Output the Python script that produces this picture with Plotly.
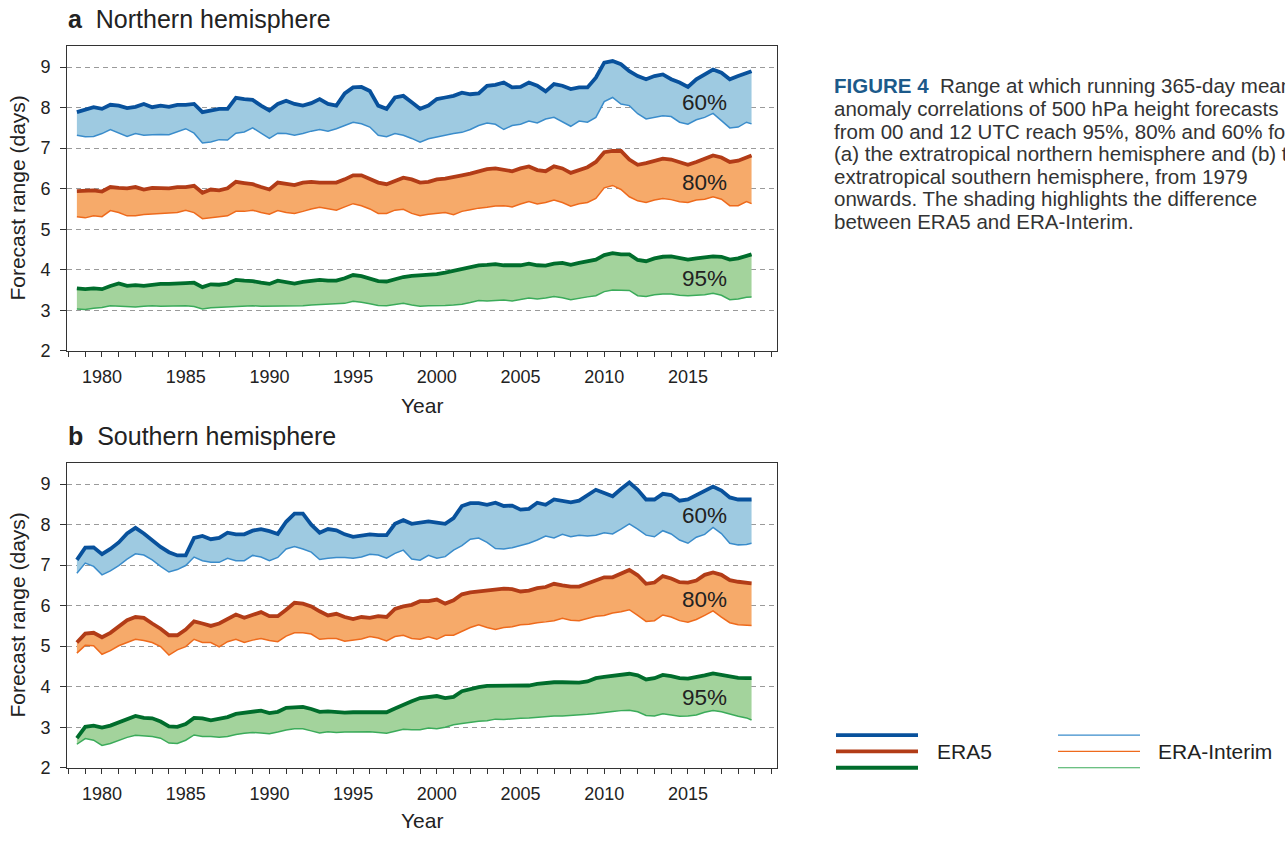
import plotly.graph_objects as go

# ---------------- data ----------------
YEARS = [1978.5 + 0.5 * i for i in range(81)] + [2018.8]

NH_ERA5_60 = [7.89, 7.94, 8.01, 7.97, 8.07, 8.05, 7.99, 8.02, 8.09, 8.01, 8.05, 8.02, 8.07, 8.07, 8.09, 7.89, 7.94, 7.97, 7.97, 8.24, 8.21,
              8.19, 8.05, 7.93, 8.09, 8.17, 8.09, 8.05, 8.11, 8.21, 8.09, 8.05, 8.35, 8.50, 8.51, 8.41, 8.05, 7.97, 8.25, 8.29, 8.13, 7.97,
              8.05, 8.21, 8.25, 8.29, 8.37, 8.33, 8.35, 8.54, 8.56, 8.62, 8.50, 8.51, 8.62, 8.54, 8.40, 8.58, 8.54, 8.46, 8.50, 8.50,
              8.74, 9.11, 9.15, 9.07, 8.90, 8.78, 8.70, 8.78, 8.82, 8.70, 8.62, 8.51, 8.70, 8.82, 8.94, 8.86, 8.70, 8.78, 8.86, 8.90]
NH_ERAI_60 = [7.32, 7.28, 7.29, 7.36, 7.46, 7.37, 7.29, 7.36, 7.32, 7.33, 7.34, 7.33, 7.40, 7.48, 7.37, 7.13, 7.15, 7.21, 7.20, 7.37, 7.40,
              7.50, 7.37, 7.24, 7.37, 7.36, 7.32, 7.36, 7.42, 7.46, 7.42, 7.48, 7.56, 7.64, 7.60, 7.52, 7.32, 7.28, 7.36, 7.32, 7.24, 7.15,
              7.23, 7.28, 7.32, 7.36, 7.39, 7.46, 7.56, 7.62, 7.59, 7.46, 7.56, 7.59, 7.67, 7.62, 7.72, 7.76, 7.66, 7.54, 7.67, 7.64,
              7.76, 8.15, 8.25, 8.09, 8.05, 7.85, 7.72, 7.76, 7.80, 7.78, 7.64, 7.59, 7.70, 7.76, 7.86, 7.68, 7.50, 7.52, 7.64, 7.60]
NH_ERA5_80 = [5.94, 5.94, 5.96, 5.93, 6.04, 6.02, 6.01, 6.04, 5.98, 6.02, 6.02, 6.01, 6.04, 6.04, 6.07, 5.90, 5.98, 5.96, 6.01, 6.17, 6.14,
              6.11, 6.04, 5.98, 6.15, 6.13, 6.09, 6.15, 6.17, 6.15, 6.15, 6.15, 6.23, 6.33, 6.33, 6.25, 6.15, 6.11, 6.19, 6.27, 6.23, 6.15,
              6.17, 6.23, 6.25, 6.28, 6.33, 6.37, 6.43, 6.48, 6.50, 6.46, 6.43, 6.50, 6.55, 6.46, 6.43, 6.55, 6.50, 6.39, 6.45, 6.53,
              6.66, 6.90, 6.93, 6.93, 6.72, 6.59, 6.63, 6.69, 6.74, 6.72, 6.66, 6.59, 6.66, 6.74, 6.82, 6.77, 6.66, 6.69, 6.76, 6.82]
NH_ERAI_80 = [5.31, 5.28, 5.33, 5.31, 5.46, 5.41, 5.33, 5.33, 5.36, 5.37, 5.39, 5.39, 5.41, 5.47, 5.41, 5.26, 5.28, 5.31, 5.33, 5.44, 5.44,
              5.47, 5.41, 5.37, 5.46, 5.41, 5.39, 5.44, 5.50, 5.54, 5.50, 5.47, 5.55, 5.63, 5.58, 5.50, 5.39, 5.39, 5.47, 5.49, 5.39, 5.33,
              5.37, 5.39, 5.41, 5.36, 5.44, 5.48, 5.52, 5.54, 5.57, 5.58, 5.55, 5.62, 5.68, 5.62, 5.66, 5.72, 5.66, 5.57, 5.63, 5.66,
              5.76, 6.02, 6.08, 5.98, 5.80, 5.70, 5.66, 5.72, 5.76, 5.73, 5.68, 5.66, 5.72, 5.74, 5.80, 5.74, 5.58, 5.58, 5.68, 5.63]
NH_ERA5_95 = [3.54, 3.52, 3.54, 3.52, 3.60, 3.66, 3.60, 3.62, 3.60, 3.63, 3.65, 3.65, 3.65, 3.67, 3.68, 3.57, 3.64, 3.63, 3.66, 3.75, 3.73,
              3.72, 3.68, 3.65, 3.73, 3.70, 3.66, 3.70, 3.73, 3.75, 3.73, 3.73, 3.79, 3.87, 3.84, 3.77, 3.72, 3.71, 3.77, 3.82, 3.85, 3.86,
              3.86, 3.89, 3.93, 3.98, 4.02, 4.07, 4.11, 4.12, 4.14, 4.11, 4.11, 4.11, 4.15, 4.11, 4.10, 4.15, 4.17, 4.12, 4.17, 4.20,
              4.25, 4.36, 4.41, 4.38, 4.38, 4.24, 4.21, 4.28, 4.32, 4.33, 4.30, 4.25, 4.28, 4.30, 4.33, 4.32, 4.25, 4.28, 4.33, 4.38]
NH_ERAI_95 = [3.03, 3.02, 3.05, 3.07, 3.11, 3.10, 3.09, 3.08, 3.10, 3.11, 3.10, 3.10, 3.11, 3.11, 3.09, 3.03, 3.06, 3.07, 3.09, 3.10, 3.11,
              3.11, 3.10, 3.10, 3.11, 3.11, 3.11, 3.11, 3.13, 3.14, 3.15, 3.15, 3.17, 3.22, 3.20, 3.16, 3.12, 3.11, 3.14, 3.17, 3.13, 3.10,
              3.11, 3.11, 3.12, 3.13, 3.15, 3.19, 3.24, 3.23, 3.24, 3.25, 3.23, 3.26, 3.30, 3.28, 3.30, 3.34, 3.31, 3.26, 3.30, 3.33,
              3.36, 3.46, 3.50, 3.49, 3.49, 3.36, 3.34, 3.38, 3.40, 3.40, 3.37, 3.36, 3.37, 3.38, 3.42, 3.37, 3.26, 3.28, 3.32, 3.33]

SH_ERA5_60 = [7.13, 7.43, 7.44, 7.27, 7.40, 7.56, 7.78, 7.92, 7.78, 7.62, 7.45, 7.32, 7.24, 7.24, 7.67, 7.72, 7.64, 7.67, 7.80, 7.76, 7.76,
              7.85, 7.89, 7.84, 7.77, 8.07, 8.27, 8.27, 8.00, 7.80, 7.89, 7.86, 7.76, 7.70, 7.74, 7.76, 7.74, 7.74, 8.02, 8.11, 8.02, 8.05,
              8.08, 8.05, 8.02, 8.16, 8.46, 8.53, 8.53, 8.49, 8.54, 8.46, 8.47, 8.37, 8.39, 8.54, 8.49, 8.62, 8.59, 8.55, 8.59, 8.73,
              8.86, 8.78, 8.70, 8.88, 9.04, 8.86, 8.62, 8.62, 8.76, 8.73, 8.59, 8.62, 8.73, 8.84, 8.94, 8.84, 8.67, 8.62, 8.62, 8.62]
SH_ERAI_60 = [6.80, 7.05, 6.97, 6.76, 6.86, 6.99, 7.15, 7.28, 7.25, 7.13, 6.97, 6.83, 6.89, 6.99, 7.20, 7.11, 7.07, 7.07, 7.17, 7.11, 7.11,
              7.24, 7.20, 7.11, 7.19, 7.40, 7.46, 7.40, 7.32, 7.14, 7.17, 7.19, 7.19, 7.17, 7.20, 7.27, 7.25, 7.17, 7.29, 7.37, 7.15, 7.12,
              7.24, 7.17, 7.21, 7.37, 7.48, 7.64, 7.67, 7.56, 7.41, 7.40, 7.43, 7.48, 7.54, 7.62, 7.72, 7.67, 7.76, 7.70, 7.74, 7.72,
              7.74, 7.80, 7.77, 7.89, 8.02, 7.89, 7.74, 7.70, 7.85, 7.77, 7.62, 7.54, 7.69, 7.76, 7.93, 7.78, 7.54, 7.50, 7.51, 7.54]
SH_ERA5_80 = [5.09, 5.31, 5.33, 5.22, 5.33, 5.50, 5.64, 5.72, 5.70, 5.56, 5.43, 5.27, 5.27, 5.41, 5.61, 5.56, 5.50, 5.56, 5.67, 5.78, 5.70,
              5.77, 5.84, 5.74, 5.74, 5.90, 6.07, 6.05, 5.98, 5.86, 5.76, 5.80, 5.72, 5.67, 5.72, 5.70, 5.74, 5.72, 5.92, 5.98, 6.02, 6.11,
              6.11, 6.15, 6.05, 6.13, 6.28, 6.33, 6.35, 6.37, 6.39, 6.42, 6.41, 6.35, 6.37, 6.43, 6.46, 6.54, 6.50, 6.47, 6.47, 6.54,
              6.63, 6.70, 6.70, 6.80, 6.88, 6.75, 6.54, 6.57, 6.73, 6.67, 6.58, 6.57, 6.62, 6.76, 6.82, 6.76, 6.63, 6.59, 6.57, 6.55]
SH_ERAI_80 = [4.83, 5.02, 5.01, 4.80, 4.89, 5.01, 5.09, 5.17, 5.14, 5.09, 4.99, 4.78, 4.91, 4.99, 5.17, 5.09, 5.09, 4.98, 5.11, 5.17, 5.09,
              5.15, 5.19, 5.14, 5.11, 5.25, 5.33, 5.33, 5.30, 5.17, 5.19, 5.19, 5.12, 5.15, 5.18, 5.24, 5.20, 5.13, 5.24, 5.27, 5.19, 5.17,
              5.23, 5.17, 5.27, 5.27, 5.37, 5.46, 5.53, 5.46, 5.41, 5.46, 5.48, 5.53, 5.54, 5.58, 5.60, 5.63, 5.69, 5.64, 5.63, 5.69,
              5.74, 5.76, 5.82, 5.85, 5.90, 5.76, 5.61, 5.63, 5.77, 5.72, 5.63, 5.59, 5.66, 5.76, 5.87, 5.72, 5.58, 5.53, 5.51, 5.51]
SH_ERA5_95 = [2.73, 3.01, 3.04, 2.99, 3.04, 3.12, 3.22, 3.28, 3.23, 3.22, 3.14, 3.02, 3.01, 3.08, 3.23, 3.22, 3.17, 3.20, 3.25, 3.33, 3.36,
              3.40, 3.41, 3.35, 3.38, 3.48, 3.50, 3.50, 3.45, 3.38, 3.39, 3.37, 3.36, 3.37, 3.37, 3.38, 3.39, 3.37, 3.46, 3.56, 3.64, 3.72,
              3.74, 3.77, 3.72, 3.75, 3.89, 3.95, 3.99, 4.02, 4.02, 4.03, 4.03, 4.02, 4.03, 4.07, 4.10, 4.11, 4.11, 4.10, 4.10, 4.13,
              4.21, 4.24, 4.26, 4.29, 4.32, 4.28, 4.18, 4.21, 4.29, 4.26, 4.21, 4.20, 4.23, 4.28, 4.33, 4.29, 4.24, 4.22, 4.21, 4.21]
SH_ERAI_95 = [2.58, 2.72, 2.68, 2.55, 2.60, 2.68, 2.75, 2.80, 2.78, 2.77, 2.73, 2.61, 2.60, 2.68, 2.81, 2.77, 2.77, 2.75, 2.77, 2.82, 2.85,
              2.87, 2.86, 2.84, 2.88, 2.93, 2.96, 2.96, 2.91, 2.86, 2.89, 2.87, 2.88, 2.88, 2.89, 2.89, 2.87, 2.85, 2.90, 2.95, 2.94, 2.94,
              2.98, 2.96, 3.00, 3.06, 3.09, 3.12, 3.15, 3.16, 3.20, 3.19, 3.21, 3.22, 3.23, 3.25, 3.26, 3.28, 3.28, 3.29, 3.30, 3.32,
              3.34, 3.37, 3.39, 3.41, 3.42, 3.38, 3.29, 3.28, 3.33, 3.30, 3.27, 3.28, 3.30, 3.37, 3.41, 3.38, 3.32, 3.27, 3.23, 3.18]

LEVELS = ["60%", "80%", "95%"]
Y_TICKS = [2, 3, 4, 5, 6, 7, 8, 9]
X_TICKS = [1980, 1985, 1990, 1995, 2000, 2005, 2010, 2015]

CAPTION_LINES = [
    "<b><span style='color:#1c5a8a'>FIGURE 4</span></b>\u00a0 Range at which running 365-day mean",
    "anomaly correlations of 500 hPa height forecasts",
    "from 00 and 12 UTC reach 95%, 80% and 60% for",
    "(a) the extratropical northern hemisphere and (b) the",
    "extratropical southern hemisphere, from 1979",
    "onwards. The shading highlights the difference",
    "between ERA5 and ERA-Interim.",
]

# ---------------- styles ----------------
FONT = "Liberation Sans, Arial, Helvetica, sans-serif"
ERA5_COL = {"60%": "#08519c", "80%": "#b23c17", "95%": "#006d2c"}
ERAI_COL = {"60%": "#3a8ccb", "80%": "#ee6a1c", "95%": "#3bab5a"}
FILL_COL = {"60%": "#9ecae1", "80%": "#f6aa6a", "95%": "#a3d39c"}

W, H = 1285, 841
def px_x(p): return p / W
def px_y(p): return 1 - p / H

fig = go.Figure()

panels = [
    ("x", "y", {"60%": (NH_ERAI_60, NH_ERA5_60), "80%": (NH_ERAI_80, NH_ERA5_80), "95%": (NH_ERAI_95, NH_ERA5_95)}),
    ("x2", "y2", {"60%": (SH_ERAI_60, SH_ERA5_60), "80%": (SH_ERAI_80, SH_ERA5_80), "95%": (SH_ERAI_95, SH_ERA5_95)}),
]
for xa, ya, series in panels:
    for lev in LEVELS:
        erai, era5 = series[lev]
        fig.add_trace(go.Scatter(x=YEARS, y=erai, xaxis=xa, yaxis=ya, mode="lines",
                                 line=dict(color=ERAI_COL[lev], width=1.5), hoverinfo="skip"))
        fig.add_trace(go.Scatter(x=YEARS, y=era5, xaxis=xa, yaxis=ya, mode="lines",
                                 line=dict(color=ERA5_COL[lev], width=3.8),
                                 fill="tonexty", fillcolor=FILL_COL[lev], hoverinfo="skip"))

x_dom = [px_x(67), px_x(777)]
common_x = dict(range=[1977.91, 2020.32], tickmode="array", tickvals=X_TICKS, ticks="outside", ticklen=5,
                tickwidth=1, tickcolor="#333", showline=True, linecolor="#333", linewidth=1, mirror=True,
                showgrid=False, zeroline=False, ticklabelstandoff=5,
                tickfont=dict(size=18, color="#222", family=FONT),
                minor=dict(tick0=1980, dtick=1, ticks="outside", ticklen=5, tickwidth=1, tickcolor="#333"))
common_y = dict(range=[2, 9.51], tickmode="array", tickvals=Y_TICKS, ticks="outside", ticklen=6, tickwidth=1,
                tickcolor="#333", showline=True, linecolor="#333", linewidth=1, mirror=True,
                showgrid=True, gridcolor="#9a9a9a", gridwidth=1.2, griddash="5px,4px", zeroline=False,
                ticklabelstandoff=6, tickfont=dict(size=18, color="#222", family=FONT))

fig.update_layout(
    width=W, height=H, margin=dict(l=0, r=0, t=0, b=0),
    paper_bgcolor="white", plot_bgcolor="white", showlegend=False,
    font=dict(family=FONT, size=17, color="#222"),
    xaxis=dict(common_x, domain=x_dom, anchor="y"),
    yaxis=dict(common_y, domain=[px_y(355), px_y(47)], anchor="x"),
    xaxis2=dict(common_x, domain=x_dom, anchor="y2"),
    yaxis2=dict(common_y, domain=[px_y(777), px_y(469)], anchor="x2"),
)

ann = []
# panel titles
ann.append(dict(text="<b>a</b>\u00a0 Northern hemisphere", x=px_x(66), y=px_y(19), xref="paper", yref="paper",
                xanchor="left", yanchor="middle", showarrow=False, font=dict(size=25, color="#222")))
ann.append(dict(text="<b>b</b>\u00a0 Southern hemisphere", x=px_x(66), y=px_y(441), xref="paper", yref="paper",
                xanchor="left", yanchor="middle", showarrow=False, font=dict(size=25, color="#222")))
# axis titles
for yc in (201, 623):
    ann.append(dict(text="Forecast range (days)", x=px_x(18), y=px_y(yc), xref="paper", yref="paper",
                    textangle=-90, xanchor="center", yanchor="middle", showarrow=False, font=dict(size=21, color="#222")))
for yc in (410, 830):
    ann.append(dict(text="Year", x=px_x(422), y=px_y(yc), xref="paper", yref="paper",
                    xanchor="center", yanchor="middle", showarrow=False, font=dict(size=21, color="#222")))
# level labels
LABEL_POS = {"x": {"60%": 8.12, "80%": 6.15, "95%": 3.78}, "x2": {"60%": 8.22, "80%": 6.15, "95%": 3.73}}
for xa, ya in (("x", "y"), ("x2", "y2")):
    for lev in LEVELS:
        ann.append(dict(text=lev, x=2016.0, y=LABEL_POS[xa][lev], xref=xa, yref=ya, showarrow=False,
                        xanchor="center", yanchor="middle", font=dict(size=22.5, color="#222")))
# caption, one annotation per line
for i, line in enumerate(CAPTION_LINES):
    ann.append(dict(text=line, x=px_x(832), y=px_y(87 + 22.8 * i), xref="paper", yref="paper", xanchor="left",
                    yanchor="middle", align="left", showarrow=False, font=dict(size=20.5, color="#333")))
# legend text
ann.append(dict(text="ERA5", x=px_x(935), y=px_y(761), xref="paper", yref="paper", xanchor="left",
                yanchor="middle", showarrow=False, font=dict(size=21, color="#222")))
ann.append(dict(text="ERA-Interim", x=px_x(1156), y=px_y(761), xref="paper", yref="paper", xanchor="left",
                yanchor="middle", showarrow=False, font=dict(size=21, color="#222")))

shapes = []
for i, lev in enumerate(LEVELS):
    yy = px_y(744 + 16.5 * i)
    shapes.append(dict(type="line", xref="paper", yref="paper", x0=px_x(836), x1=px_x(918), y0=yy, y1=yy,
                       line=dict(color=ERA5_COL[lev], width=3.8)))
    shapes.append(dict(type="line", xref="paper", yref="paper", x0=px_x(1058), x1=px_x(1140), y0=yy, y1=yy,
                       line=dict(color=ERAI_COL[lev], width=1.2)))

fig.update_layout(annotations=ann, shapes=shapes)
fig.write_html("out.html")
